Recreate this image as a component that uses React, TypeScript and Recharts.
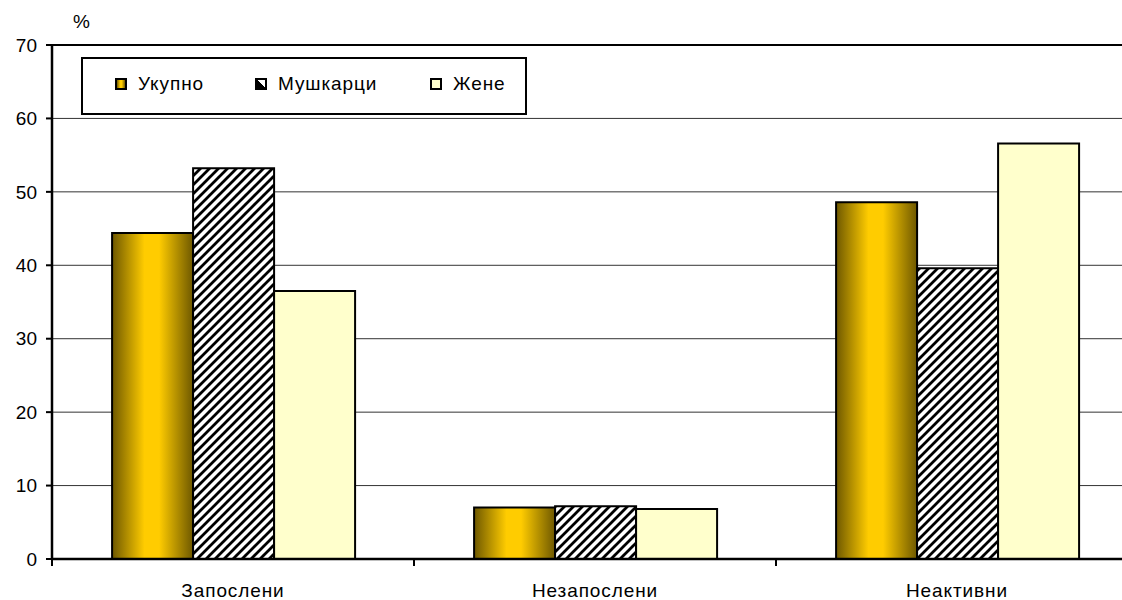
import React from 'react';
import { BarChart, Bar, XAxis, YAxis, CartesianGrid, ReferenceLine } from 'recharts';

const categories = ['Запослени', 'Незапослени', 'Неактивни'];
const ukupno = [44.4, 7.0, 48.6];
const muskarci = [53.2, 7.2, 39.6];
const zene = [36.5, 6.8, 56.6];
const yTicks = [0, 10, 20, 30, 40, 50, 60, 70];
const seriesNames = ['Укупно', 'Мушкарци', 'Жене'];

const data = categories.map((c, i) => ({ cat: c, u: ukupno[i], m: muskarci[i], z: zene[i] }));

const FONT = '"Liberation Sans", Arial, sans-serif';

const CatTick = (props: any) => {
  const { x, y, payload, index } = props;
  const off = payload && payload.offset != null ? payload.offset : 181;
  return (
    <g>
      <line x1={x - off} x2={x - off} y1={y} y2={y + 7} stroke="#000" strokeWidth={2} />
      {index === categories.length - 1 && (
        <line x1={x + off} x2={x + off} y1={y} y2={y + 7} stroke="#000" strokeWidth={2} />
      )}
      <text
        x={x}
        y={y + 38}
        textAnchor="middle"
        fill="#000"
        fontSize={19}
        fontFamily={FONT}
        style={{ letterSpacing: 0.9 }}
      >
        {payload.value}
      </text>
    </g>
  );
};

const swatch = (i: number) => {
  const style: React.CSSProperties = {
    position: 'absolute',
    left: 0,
    top: 0,
    width: 8,
    height: 8,
    border: '2px solid #000',
  };
  if (i === 0) style.background = 'linear-gradient(to right, #705a00, #ffcc00 40%, #ffcc00 60%, #705a00)';
  if (i === 1) style.background = 'linear-gradient(to top right, #000 50%, #fff 50%)';
  if (i === 2) style.background = '#ffffcc';
  return <span style={style} />;
};

const legendSwatchX = [32, 172, 347];

const LegendBox = () => (
  <div
    style={{
      position: 'absolute',
      left: 81,
      top: 57,
      border: '2px solid #000',
      background: '#fff',
      width: 442,
      height: 54,
      fontFamily: FONT,
      fontSize: 19,
      color: '#000',
      zIndex: 2,
    }}
  >
    {seriesNames.map((n, i) => (
      <div key={n} style={{ position: 'absolute', left: legendSwatchX[i], top: 19, height: 12 }}>
        {swatch(i)}
        <span
          style={{
            position: 'absolute',
            left: 23,
            top: -5,
            whiteSpace: 'nowrap',
            letterSpacing: 0.9,
            lineHeight: '22px',
          }}
        >
          {n}
        </span>
      </div>
    ))}
  </div>
);

export default function App() {
  return (
    <div
      style={{
        position: 'absolute',
        left: 0,
        top: 0,
        width: 1122,
        height: 600,
        overflow: 'hidden',
        background: '#fff',
      }}
    >
      <div style={{ position: 'absolute', left: 73, top: 11, fontFamily: FONT, fontSize: 19, lineHeight: '22px' }}>%</div>
      <LegendBox />
      <BarChart
        width={1140}
        height={600}
        data={data}
        margin={{ top: 45, right: 2, left: 0, bottom: 0 }}
        barCategoryGap="16.6%"
        barGap={0}
      >
        <defs>
          <linearGradient id="goldGrad" x1="0" y1="0" x2="1" y2="0">
            <stop offset="0%" stopColor="#6e5800" />
            <stop offset="40%" stopColor="#ffcc00" />
            <stop offset="58%" stopColor="#ffcc00" />
            <stop offset="100%" stopColor="#6e5800" />
          </linearGradient>
          <pattern id="hatch" patternUnits="userSpaceOnUse" width="9" height="9">
            <rect width="9" height="9" fill="#fff" />
            <path d="M-1,1 l2,-2 M0,9 l9,-9 M8,10 l2,-2" stroke="#000" strokeWidth={2.8} />
          </pattern>
        </defs>
        <CartesianGrid vertical={false} stroke="#333" strokeWidth={1} />
        <ReferenceLine y={70} stroke="#000" strokeWidth={2} />
        <XAxis
          dataKey="cat"
          height={41}
          tickLine={false}
          tickSize={0}
          tickMargin={0}
          axisLine={{ stroke: '#000', strokeWidth: 2.5 }}
          tick={<CatTick />}
          interval={0}
        />
        <YAxis
          domain={[0, 70]}
          ticks={yTicks}
          width={52}
          tickSize={6}
          tickMargin={9}
          axisLine={{ stroke: '#000', strokeWidth: 2.5 }}
          tickLine={{ stroke: '#000', strokeWidth: 2 }}
          tick={{ fill: '#000', fontSize: 19, fontFamily: FONT }}
          interval={0}
        />
        <Bar dataKey="u" name={seriesNames[0]} fill="url(#goldGrad)" stroke="#000" strokeWidth={2} isAnimationActive={false} />
        <Bar dataKey="m" name={seriesNames[1]} fill="url(#hatch)" stroke="#000" strokeWidth={2} isAnimationActive={false} />
        <Bar dataKey="z" name={seriesNames[2]} fill="#ffffcc" stroke="#000" strokeWidth={2} isAnimationActive={false} />
      </BarChart>
    </div>
  );
}
